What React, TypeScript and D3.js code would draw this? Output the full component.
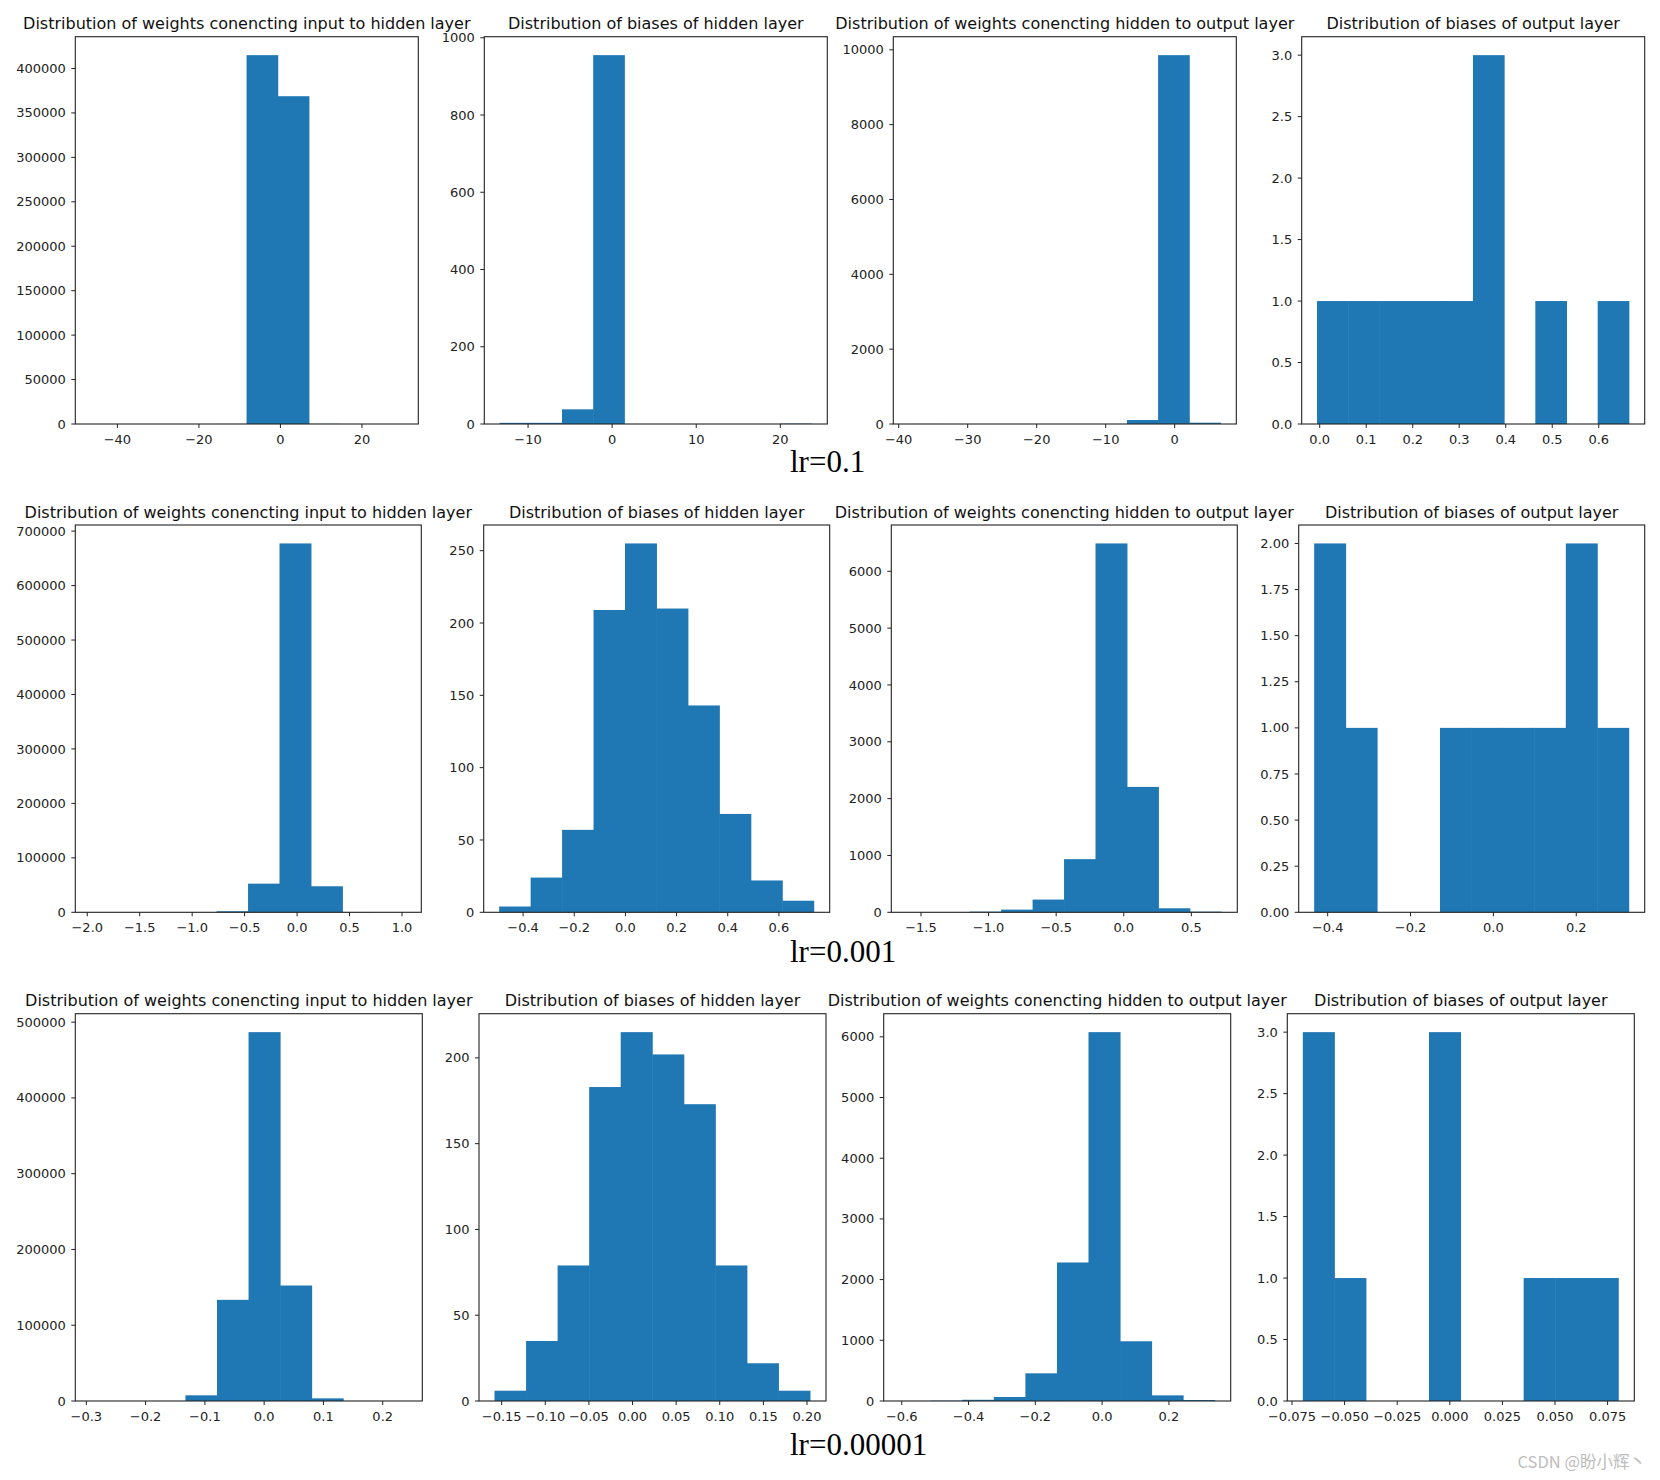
import * as d3 from 'd3';

const panelTitles = [
  'Distribution of weights conencting input to hidden layer',
  'Distribution of biases of hidden layer',
  'Distribution of weights conencting hidden to output layer',
  'Distribution of biases of output layer',
];
const rowLabels = ['lr=0.1', 'lr=0.001', 'lr=0.00001'];

// each histogram: [min, max] of the data (10 equal bins) and the bin counts
// lr = 0.1
const ihWeightRange1 = [-46.5, 30.0];
const ihWeightCounts1 = [1, 0, 0, 2, 60, 415000, 368800, 130, 6, 1];
const hBiasRange1 = [-13.35, 23.73];
const hBiasCounts1 = [3, 3, 38, 955, 0, 0, 0, 0, 0, 1];
const hoWeightRange1 = [-38.52, 6.67];
const hoWeightCounts1 = [1, 0, 0, 0, 0, 0, 0, 107, 9857, 35];
const oBiasRange1 = [-0.0052, 0.6653];
const oBiasCounts1 = [1, 1, 1, 1, 1, 3, 0, 1, 0, 1];

// lr = 0.001
const ihWeightRange2 = [-1.964, 1.034];
const ihWeightCounts2 = [1, 2, 20, 180, 2000, 52600, 677400, 47800, 600, 1];
const hBiasRange2 = [-0.4925, 0.737];
const hBiasCounts2 = [4, 24, 57, 209, 255, 210, 143, 68, 22, 8];
const hoWeightRange2 = [-1.6033, 0.7237];
const hoWeightCounts2 = [1, 2, 12, 47, 224, 935, 6490, 2206, 71, 12];
const oBiasRange2 = [-0.432, 0.3273];
const oBiasCounts2 = [2, 1, 0, 0, 1, 1, 1, 1, 2, 1];

// lr = 0.00001
const ihWeightRange3 = [-0.292, 0.2402];
const ihWeightCounts3 = [1, 3, 60, 7500, 133500, 486800, 152400, 3500, 40, 1];
const hBiasRange3 = [-0.1579, 0.2037];
const hBiasCounts3 = [6, 35, 79, 183, 215, 202, 173, 79, 22, 6];
const hoWeightRange3 = [-0.6068, 0.3377];
const hoWeightCounts3 = [1, 5, 20, 66, 456, 2282, 6077, 984, 93, 16];
const oBiasRange3 = [-0.06974, 0.08019];
const oBiasCounts3 = [3, 1, 0, 0, 3, 0, 0, 1, 1, 1];

// tick values
const xTicks1 = [[-40, -20, 0, 20], [-10, 0, 10, 20], [-40, -30, -20, -10, 0], [0, 0.1, 0.2, 0.3, 0.4, 0.5, 0.6]];
const yTicks1 = [d3.range(0, 400001, 50000), d3.range(0, 1001, 200), d3.range(0, 10001, 2000), [0, 0.5, 1, 1.5, 2, 2.5, 3]];
const xTicks2 = [[-2, -1.5, -1, -0.5, 0, 0.5, 1], [-0.4, -0.2, 0, 0.2, 0.4, 0.6], [-1.5, -1, -0.5, 0, 0.5], [-0.4, -0.2, 0, 0.2]];
const yTicks2 = [d3.range(0, 700001, 100000), d3.range(0, 251, 50), d3.range(0, 6001, 1000), [0, 0.25, 0.5, 0.75, 1, 1.25, 1.5, 1.75, 2]];
const xTicks3 = [[-0.3, -0.2, -0.1, 0, 0.1, 0.2], [-0.15, -0.1, -0.05, 0, 0.05, 0.1, 0.15, 0.2], [-0.6, -0.4, -0.2, 0, 0.2], [-0.075, -0.05, -0.025, 0, 0.025, 0.05, 0.075]];
const yTicks3 = [d3.range(0, 500001, 100000), d3.range(0, 201, 50), d3.range(0, 6001, 1000), [0, 0.5, 1, 1.5, 2, 2.5, 3]];

const rows = [
  { ranges: [ihWeightRange1, hBiasRange1, hoWeightRange1, oBiasRange1], counts: [ihWeightCounts1, hBiasCounts1, hoWeightCounts1, oBiasCounts1], xTicks: xTicks1, yTicks: yTicks1 },
  { ranges: [ihWeightRange2, hBiasRange2, hoWeightRange2, oBiasRange2], counts: [ihWeightCounts2, hBiasCounts2, hoWeightCounts2, oBiasCounts2], xTicks: xTicks2, yTicks: yTicks2 },
  { ranges: [ihWeightRange3, hBiasRange3, hoWeightRange3, oBiasRange3], counts: [ihWeightCounts3, hBiasCounts3, hoWeightCounts3, oBiasCounts3], xTicks: xTicks3, yTicks: yTicks3 },
];

// layout
const rowTops = [36.7, 525, 1013.7];
const plotH = 387.3;
const colLefts = [
  [75.3, 484.3, 893.3, 1301.7],
  [75.3, 483.7, 891.3, 1298.7],
  [75.3, 479, 883.7, 1287.3],
];
const plotW = [343, 346, 347];
const labelBaselines = [472, 962, 1455];

const BLUE = '#1f77b4';
const SANS = '"DejaVu Sans", sans-serif';

// same number of decimals for every tick of an axis, like matplotlib's ScalarFormatter
const fmt = (ticks: number[]) => {
  let p = 0;
  while (p < 6 && ticks.some(t => Math.abs(t - +t.toFixed(p)) > 1e-9)) p++;
  return (v: number) => {
    const s = d3.format(`.${p}f`)(Math.abs(v) < 1e-12 ? 0 : v);
    return s.replace('-', '\u2212');
  };
};

function Hist({ x0, y0, w, h, range, counts, xTicks, yTicks, title }: any) {
  const [lo, hi] = range;
  const R = hi - lo;
  const x = d3.scaleLinear().domain([lo - 0.05 * R, hi + 0.05 * R]).range([x0, x0 + w]);
  const maxC = d3.max(counts as number[]) as number;
  const y = d3.scaleLinear().domain([0, maxC * 1.05]).range([y0 + h, y0]);
  const bw = R / counts.length;
  const fx = fmt(xTicks);
  const fy = fmt(yTicks);
  return (
    <g>
      <text x={x0 + w / 2} y={y0 - 7.5} textAnchor="middle" fontFamily={SANS} fontSize={16} fill="#111">{title}</text>
      {counts.map((c: number, i: number) =>
        c > 0 ? (
          // widened by a quarter pixel each side so neighbouring bars join without a seam
          <rect key={i} x={x(lo + i * bw) - 0.25} width={x(lo + (i + 1) * bw) - x(lo + i * bw) + 0.5}
            y={y(c)} height={y(0) - y(c)} fill={BLUE} />
        ) : null
      )}
      <rect x={x0} y={y0} width={w} height={h} fill="none" stroke="#222" strokeWidth={1.1} />
      {xTicks.map((t: number) => (
        <g key={'x' + t} transform={`translate(${x(t)},${y0 + h})`}>
          <line y2={4} stroke="#222" />
          <text y={19.5} textAnchor="middle" fontFamily={SANS} fontSize={13} fill="#222">{fx(t)}</text>
        </g>
      ))}
      {yTicks.map((t: number) => (
        <g key={'y' + t} transform={`translate(${x0},${y(t)})`}>
          <line x2={-4} stroke="#222" />
          <text x={-9.5} dy="0.35em" textAnchor="end" fontFamily={SANS} fontSize={13} fill="#222">{fy(t)}</text>
        </g>
      ))}
    </g>
  );
}

export default function App() {
  return (
    <svg width={1660} height={1480} style={{ position: 'absolute', left: 0, top: 0, background: '#fff' }}>
      <rect width={1660} height={1480} fill="#fff" />
      {rows.map((row, r) => (
        <g key={r}>
          {row.ranges.map((range, c) => (
            <Hist
              key={c}
              x0={colLefts[r][c]}
              y0={rowTops[r]}
              w={plotW[r]}
              h={plotH}
              range={range}
              counts={row.counts[c]}
              xTicks={row.xTicks[c]}
              yTicks={row.yTicks[c]}
              title={panelTitles[c]}
            />
          ))}
          <text x={790} y={labelBaselines[r]} fontFamily='"Liberation Serif", "Times New Roman", serif' fontSize={31} fill="#000">
            {rowLabels[r]}
          </text>
        </g>
      ))}
      <text x={1646} y={1468} textAnchor="end" fontFamily='"Noto Sans CJK SC", sans-serif' fontSize={16.5} fill="#bdbdbd">
        CSDN @盼小辉丶
      </text>
    </svg>
  );
}
